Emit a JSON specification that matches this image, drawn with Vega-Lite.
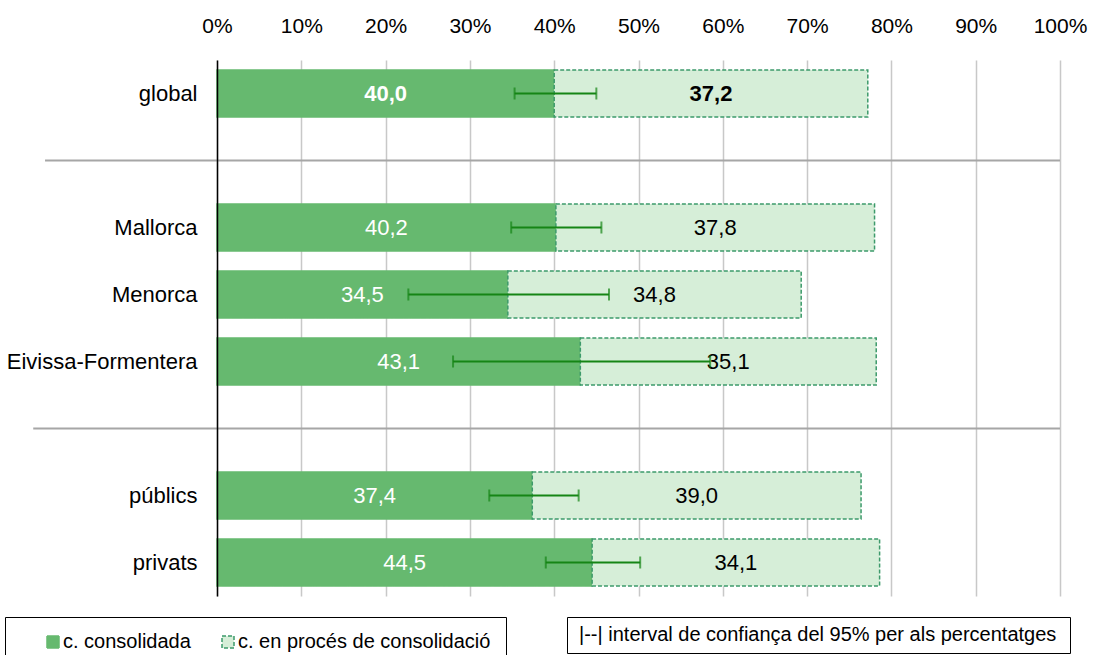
{
  "$schema": "https://vega.github.io/schema/vega-lite/v6.json",
  "width": 843,
  "height": 536,
  "autosize": "none",
  "padding": {"left": 217, "top": 60, "right": 33, "bottom": 59},
  "background": "white",
  "config": {
    "locale": {"number": {"decimal": ",", "thousands": ".", "grouping": [3], "currency": ["", " €"]}},
    "view": {"stroke": null},
    "font": "Liberation Sans",
    "legend": {"labelFontSize": 20, "labelColor": "black", "labelFont": "Liberation Sans", "direction": "horizontal", "orient": "none", "labelLimit": 0}
  },
  "datasets": {
    "bars": [
      {"grup": "global", "tipus": "c. consolidada", "valor": 40.0},
      {"grup": "global", "tipus": "c. en procés de consolidació", "valor": 37.2},
      {"grup": "Mallorca", "tipus": "c. consolidada", "valor": 40.2},
      {"grup": "Mallorca", "tipus": "c. en procés de consolidació", "valor": 37.8},
      {"grup": "Menorca", "tipus": "c. consolidada", "valor": 34.5},
      {"grup": "Menorca", "tipus": "c. en procés de consolidació", "valor": 34.8},
      {"grup": "Eivissa-Formentera", "tipus": "c. consolidada", "valor": 43.1},
      {"grup": "Eivissa-Formentera", "tipus": "c. en procés de consolidació", "valor": 35.1},
      {"grup": "públics", "tipus": "c. consolidada", "valor": 37.4},
      {"grup": "públics", "tipus": "c. en procés de consolidació", "valor": 39.0},
      {"grup": "privats", "tipus": "c. consolidada", "valor": 44.5},
      {"grup": "privats", "tipus": "c. en procés de consolidació", "valor": 34.1}
    ],
    "ci": [
      {"grup": "global", "lo": 35.3, "hi": 45.0},
      {"grup": "Mallorca", "lo": 34.9, "hi": 45.6},
      {"grup": "Menorca", "lo": 22.7, "hi": 46.5},
      {"grup": "Eivissa-Formentera", "lo": 28.0, "hi": 58.5},
      {"grup": "públics", "lo": 32.3, "hi": 42.9},
      {"grup": "privats", "lo": 39.0, "hi": 50.2}
    ],
    "sep": [{"grup": " "}, {"grup": "  "}]
  },
  "layer": [
    {
      "data": {"name": "sep"},
      "transform": [{"filter": "datum.grup === ' '"}],
      "mark": {"type": "rule", "color": "#a6a6a6", "strokeWidth": 2},
      "encoding": {
        "y": {
          "field": "grup", "type": "nominal",
          "scale": {"domain": ["global", " ", "Mallorca", "Menorca", "Eivissa-Formentera", "  ", "públics", "privats"], "paddingInner": 0.3, "paddingOuter": 0.15},
          "axis": {"title": null, "ticks": false, "domain": true, "domainColor": "black", "domainWidth": 1.5, "labelFontSize": 22, "labelColor": "black", "labelPadding": 20, "labelLimit": 0, "grid": false, "zindex": 1}
        },
        "x": {"datum": -20.4, "type": "quantitative", "scale": {"domain": [0, 100], "nice": false}},
        "x2": {"datum": 100}
      }
    },
    {
      "data": {"name": "sep"},
      "transform": [{"filter": "datum.grup === '  '"}],
      "mark": {"type": "rule", "color": "#a6a6a6", "strokeWidth": 2},
      "encoding": {
        "y": {"field": "grup", "type": "nominal"},
        "x": {"datum": -21.8, "type": "quantitative"},
        "x2": {"datum": 100}
      }
    },
    {
      "data": {"name": "bars"},
      "transform": [
        {"stack": "valor", "groupby": ["grup"], "sort": [{"field": "tipus"}], "as": ["v0", "v1"]},
        {"calculate": "(datum.v0 + datum.v1) / 2", "as": "mid"}
      ],
      "layer": [
        {
          "mark": {"type": "bar", "strokeWidth": 1.5},
          "encoding": {
            "y": {"field": "grup", "type": "nominal"},
            "x": {
              "field": "v0", "type": "quantitative",
              "axis": {"title": null, "orient": "top", "values": [0, 10, 20, 30, 40, 50, 60, 70, 80, 90, 100], "labelExpr": "datum.value + '%'", "labelFlush": false, "grid": true, "gridColor": "#c8c8c8", "gridWidth": 1.5, "domain": false, "ticks": false, "tickSize": 0, "labelPadding": 24, "labelFontSize": 21, "labelColor": "black"}
            },
            "x2": {"field": "v1"},
            "fill": {"field": "tipus", "type": "nominal", "scale": {"domain": ["c. consolidada", "c. en procés de consolidació"], "range": ["#66b96f", "#d6eed8"]}, "legend": {"title": null, "legendX": -212, "legendY": 557, "strokeColor": "black", "padding": 15, "symbolOffset": 23, "columnPadding": 4, "symbolSize": 144, "symbolType": "square", "labelOffset": 0}},
            "stroke": {"field": "tipus", "type": "nominal", "scale": {"domain": ["c. consolidada", "c. en procés de consolidació"], "range": ["#66b96f", "#3d9a6b"]}, "legend": {"title": null, "legendX": -212, "legendY": 557, "strokeColor": "black", "padding": 15, "symbolOffset": 23, "columnPadding": 4, "symbolSize": 144, "symbolType": "square", "labelOffset": 0}},
            "strokeDash": {"field": "tipus", "type": "nominal", "scale": {"domain": ["c. consolidada", "c. en procés de consolidació"], "range": [[1, 0], [4, 2]]}, "legend": {"title": null, "legendX": -212, "legendY": 557, "strokeColor": "black", "padding": 15, "symbolOffset": 23, "columnPadding": 4, "symbolSize": 144, "symbolType": "square", "labelOffset": 0}}
          }
        },
        {
          "transform": [{"filter": "datum.grup !== 'global'"}],
          "mark": {"type": "text", "fontSize": 22, "baseline": "middle", "align": "center"},
          "encoding": {
            "y": {"field": "grup", "type": "nominal"},
            "x": {"field": "mid", "type": "quantitative"},
            "text": {"field": "valor", "type": "quantitative", "format": ".1f"},
            "color": {"condition": {"test": "datum.tipus === 'c. consolidada'", "value": "white"}, "value": "black"}
          }
        },
        {
          "transform": [{"filter": "datum.grup === 'global'"}],
          "mark": {"type": "text", "fontSize": 22, "fontWeight": "bold", "baseline": "middle", "align": "center"},
          "encoding": {
            "y": {"field": "grup", "type": "nominal"},
            "x": {"field": "mid", "type": "quantitative"},
            "text": {"field": "valor", "type": "quantitative", "format": ".1f"},
            "color": {"condition": {"test": "datum.tipus === 'c. consolidada'", "value": "white"}, "value": "black"}
          }
        }
      ]
    },
    {
      "data": {"name": "ci"},
      "layer": [
        {
          "mark": {"type": "rule", "color": "#158515", "strokeWidth": 2},
          "encoding": {
            "y": {"field": "grup", "type": "nominal"},
            "x": {"field": "lo", "type": "quantitative"},
            "x2": {"field": "hi"},
            "opacity": {"datum": "|--|  interval de confiança del 95% per als percentatges", "type": "ordinal", "scale": {"range": [1]}, "legend": {"title": null, "legendX": 350, "legendY": 557, "strokeColor": "black", "padding": 8, "symbolSize": 0, "symbolStrokeWidth": 0, "symbolOpacity": 0, "symbolOffset": -16, "labelOffset": 0, "labelFontSize": 20}}
          }
        },
        {
          "mark": {"type": "tick", "color": "#158515", "size": 12, "thickness": 2},
          "encoding": {
            "y": {"field": "grup", "type": "nominal"},
            "x": {"field": "lo", "type": "quantitative"}
          }
        },
        {
          "mark": {"type": "tick", "color": "#158515", "size": 12, "thickness": 2},
          "encoding": {
            "y": {"field": "grup", "type": "nominal"},
            "x": {"field": "hi", "type": "quantitative"}
          }
        }
      ]
    }
  ]
}
